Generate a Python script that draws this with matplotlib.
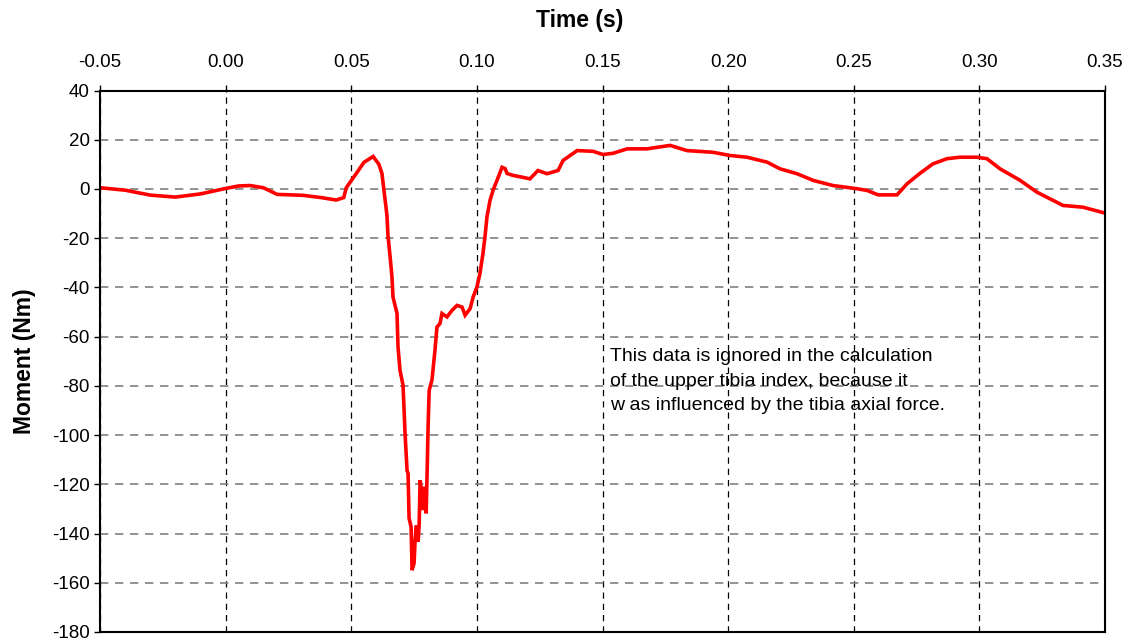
import matplotlib.pyplot as plt
import numpy as np

plt.rcParams['font.family'] = ['Liberation Sans', 'DejaVu Sans']
plt.rcParams['axes.unicode_minus'] = False

# Время (с) и момент (Нм)
time_s = [-0.0500, -0.0400, -0.0300, -0.0200, -0.0100, -0.0010, 0.0050, 0.0097,
          0.0150, 0.0205, 0.0260, 0.0310, 0.0380, 0.0440, 0.0470, 0.0480,
          0.0520, 0.0550, 0.0587, 0.0610, 0.0622, 0.0634, 0.0642, 0.0646,
          0.0654, 0.0662, 0.0666, 0.0682, 0.0686, 0.0694, 0.0706, 0.0714,
          0.0722, 0.0726, 0.0730, 0.0738, 0.0742, 0.0750, 0.0754, 0.0758,
          0.0762, 0.0766, 0.0770, 0.0774, 0.0782, 0.0786, 0.0790, 0.0798,
          0.0802, 0.0806, 0.0810, 0.0821, 0.0825, 0.0833, 0.0841, 0.0853,
          0.0861, 0.0881, 0.0901, 0.0921, 0.0941, 0.0953, 0.0973, 0.0985,
          0.1000, 0.1012, 0.1024, 0.1032, 0.1040, 0.1052, 0.1064, 0.1080,
          0.1100, 0.1112, 0.1120, 0.1144, 0.1180, 0.1211, 0.1243, 0.1279,
          0.1323, 0.1343, 0.1399, 0.1462, 0.1502, 0.1542, 0.1598, 0.1677,
          0.1769, 0.1836, 0.1940, 0.2007, 0.2075, 0.2155, 0.2206, 0.2274,
          0.2338, 0.2417, 0.2513, 0.2553, 0.2597, 0.2672, 0.2712, 0.2764,
          0.2815, 0.2871, 0.2923, 0.2990, 0.3030, 0.3082, 0.3162, 0.3229,
          0.3281, 0.3333, 0.3412, 0.3500]
moment_nm = [0.5, -0.5, -2.5, -3.3, -2.0, 0.0, 1.2, 1.4,
             0.5, -2.2, -2.4, -2.6, -3.5, -4.5, -3.5, 0.5,
             6.3, 10.8, 13.2, 10.0, 6.3, -3.9, -10.8, -18.9,
             -27.0, -35.8, -43.9, -50.6, -64.2, -73.7, -79.8, -99.3,
             -114.4, -115.6, -133.8, -137.3, -154.9, -152.0, -142.7, -137.3,
             -137.3, -143.4, -136.6, -118.3, -125.0, -130.5, -121.0, -131.8,
             -114.3, -95.3, -81.8, -77.7, -73.7, -65.6, -56.1, -54.7,
             -50.6, -52.0, -49.3, -47.3, -48.0, -51.3, -48.6, -43.9,
             -39.9, -34.4, -26.3, -19.6, -11.4, -4.7, -0.6, 3.5,
             8.8, 8.3, 6.3, 5.5, 4.8, 4.1, 7.5, 6.2,
             7.5, 11.6, 15.6, 15.3, 14.0, 14.5, 16.3, 16.3,
             17.7, 15.6, 14.9, 13.6, 12.9, 10.9, 8.2, 6.2,
             3.5, 1.4, 0.1, -0.6, -2.4, -2.4, 2.1, 6.4,
             10.2, 12.3, 12.9, 12.9, 12.3, 8.2, 3.5, -1.3,
             -4.0, -6.7, -7.4, -9.8]

x_ticks = [-0.05, 0.00, 0.05, 0.10, 0.15, 0.20, 0.25, 0.30, 0.35]
y_ticks = [40, 20, 0, -20, -40, -60, -80, -100, -120, -140, -160, -180]

note = ("This data is ignored in the calculation\n"
        "of the upper tibia index, because it\n"
        "w as influenced by the tibia axial force.")

fig = plt.figure(figsize=(11.33, 6.42), dpi=100)
ax = fig.add_axes([0.0883, 0.0156, 0.887, 0.8434])

ax.plot(time_s, moment_nm, color='#ff0000', linewidth=2.6, solid_joinstyle='miter')

ax.set_xlim(-0.05, 0.35)
ax.set_ylim(-180, 40)
ax.set_xticks(x_ticks)
ax.set_xticklabels([f'{v:.2f}' for v in x_ticks])
ax.set_yticks(y_ticks)

ax.xaxis.tick_top()
ax.xaxis.set_label_position('top')
ax.tick_params(axis='both', direction='out', length=4, width=1, labelsize=13.5,
               colors='black')
ax.tick_params(axis='x', pad=10)

ax.set_xlabel('Time (s)', fontsize=16.5, fontweight='bold')
ax.set_ylabel('Moment (Nm)', fontsize=16.5, fontweight='bold')
ax.xaxis.set_label_coords(0.477, 1.118)
ax.yaxis.set_label_coords(-0.064, 0.5)

ax.xaxis.grid(True, color='black', linestyle=(0, (5, 4)), linewidth=0.9)
ax.yaxis.grid(True, color='#808080', linestyle=(0, (5, 4)), linewidth=1.2)
ax.set_axisbelow(True)

for s in ax.spines.values():
    s.set_linewidth(1.5)
    s.set_color('black')

ax.text(0.153, -64.5, note, fontsize=14, va='top', ha='left', linespacing=1.6)

fig.savefig('out.png', dpi=100)
